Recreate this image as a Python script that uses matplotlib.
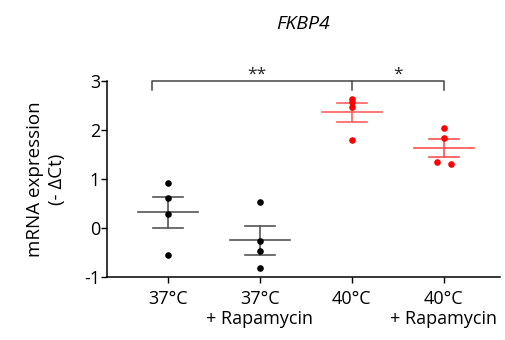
import numpy as np
import matplotlib.pyplot as plt

plt.rcParams['font.family'] = ['Open Sans', 'DejaVu Sans']
plt.rcParams['axes.unicode_minus'] = False

groups = ['37°C', '37°C\n+ Rapamycin', '40°C', '40°C\n+ Rapamycin']
g1 = [0.92, 0.61, 0.28, -0.54]
g2 = [0.54, -0.27, -0.46, -0.82]
g3 = [2.63, 2.56, 2.46, 1.80]
g4 = [2.03, 1.84, 1.34, 1.31]
jitter4 = [0.0, 0.0, -0.08, 0.08]
data = [g1, g2, g3, g4]
point_colors = ['black', 'black', 'red', 'red']
line_colors = ['#555555', '#555555', '#ff6060', '#ff5050']

fig = plt.figure(figsize=(5.05, 3.4), dpi=100)
ax = fig.add_axes([0.212, 0.185, 0.778, 0.577])

for i, vals in enumerate(data):
    vals = np.array(vals)
    m = vals.mean()
    sem = vals.std(ddof=1) / np.sqrt(len(vals))
    xs = np.full(len(vals), float(i))
    if i == 3:
        xs = xs + np.array(jitter4)
    ax.plot([i - 0.33, i + 0.33], [m, m], color=line_colors[i], lw=1.2, zorder=2)
    ax.plot([i, i], [m - sem, m + sem], color=line_colors[i], lw=1.2, zorder=2)
    for y in (m - sem, m + sem):
        ax.plot([i - 0.165, i + 0.165], [y, y], color=line_colors[i], lw=1.2, zorder=2)
    ax.scatter(xs, vals, s=14, color=point_colors[i], zorder=3)

# significance brackets
bw = dict(color='#444444', lw=1.1, clip_on=False)
ax.plot([-0.17, -0.17, 2, 2], [2.82, 3.0, 3.0, 2.82], **bw)
ax.plot([2, 3, 3], [3.0, 3.0, 2.82], **bw)
ax.text(0.97, 2.97, '**', ha='center', va='bottom', fontsize=12.5, color='#222222')
ax.text(2.5, 2.97, '*', ha='center', va='bottom', fontsize=12.5, color='#222222')

ax.set_xlim(-0.663, 3.61)
ax.set_ylim(-1, 3)
ax.set_yticks([-1, 0, 1, 2, 3])
ax.set_xticks(range(4))
ax.set_xticklabels(groups, fontsize=13, linespacing=1.15)
ax.tick_params(axis='y', labelsize=13, length=4, width=1, pad=1)
ax.tick_params(axis='x', length=4, width=1, pad=5)
ax.spines['top'].set_visible(False)
ax.spines['right'].set_visible(False)
ax.spines['left'].set_linewidth(1.1)
ax.spines['bottom'].set_linewidth(1.1)
ax.set_ylabel('mRNA expression\n(- ΔCt)', fontsize=13.5, labelpad=13, linespacing=1.3)

fig.text(0.6, 0.93, 'FKBP4', ha='center', va='center', fontsize=14, style='italic')

plt.savefig('out.png', dpi=100)
